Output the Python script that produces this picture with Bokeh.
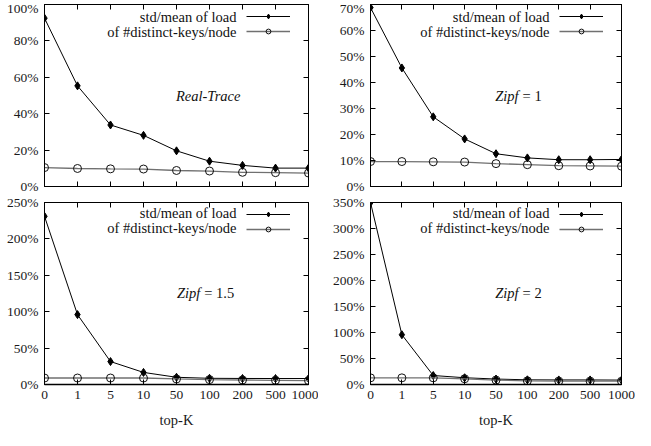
from bokeh.plotting import figure
from bokeh.layouts import gridplot
from bokeh.models import FixedTicker, LinearAxis, Range1d, Legend, LegendItem, Label
from bokeh.embed import file_html
from bokeh.resources import INLINE

x_labels = ["0", "1", "5", "10", "50", "100", "200", "500", "1000"]

real_load = [92.5, 55.3, 33.8, 28.1, 19.6, 13.9, 11.6, 10.1, 10.1]
real_keys = [10.4, 9.9, 9.7, 9.6, 8.8, 8.5, 7.8, 7.6, 7.4]
zipf1_load = [68.8, 45.6, 26.8, 18.3, 12.6, 11.0, 10.3, 10.3, 10.4]
zipf1_keys = [9.6, 9.6, 9.5, 9.4, 8.8, 8.4, 8.0, 7.9, 7.8]
zipf15_load = [231.0, 96.0, 31.5, 16.6, 9.9, 8.5, 8.3, 8.2, 8.2]
zipf15_keys = [8.9, 8.9, 8.9, 8.9, 7.6, 6.7, 6.2, 5.8, 5.4]
zipf2_load = [350.0, 95.7, 17.3, 13.0, 10.5, 9.0, 8.8, 8.8, 8.5]
zipf2_keys = [12.8, 12.8, 12.8, 11.0, 8.5, 7.0, 6.5, 6.4, 6.3]

y_max = [100, 70, 250, 350]
y_step = [20, 10, 50, 50]
panel_italic = ["Real-Trace", "Zipf", "Zipf", "Zipf"]
panel_upright = ["", "= 1", "= 1.5", "= 2"]

legend_labels = ["std/mean of load", "of #distinct-keys/node"]

FONT = "Liberation Serif"
xs = list(range(len(x_labels)))


def style_axis(ax, show_labels, labels):
    ax.major_tick_in = 5
    ax.major_tick_out = 0
    ax.minor_tick_line_color = None
    ax.axis_line_color = "black"
    ax.major_tick_line_color = "black"
    ax.major_label_text_font = FONT
    ax.major_label_text_font_style = "normal"
    ax.major_label_text_font_size = "13.5px"
    ax.major_label_text_color = "#1a1a1a"
    ax.axis_label_text_font = FONT
    ax.axis_label_text_font_size = "14.5px"
    ax.axis_label_text_font_style = "normal"
    ax.axis_label_text_color = "#1a1a1a"
    ax.axis_label_standoff = 10
    if show_labels:
        ax.major_label_overrides = labels
        ax.major_label_standoff = 6
    else:
        ax.major_label_overrides = {k: "" for k in labels}
        ax.major_label_standoff = 0


def make_panel(i, load, keys, left_col, bottom_row):
    w = 318 if left_col else 317
    h = 236 if bottom_row else 194
    mbl = 44 if left_col else 52
    mbr = 10 if left_col else 14
    mbt = 8 if bottom_row else 4
    mbb = 44 if bottom_row else 8
    fw = w - mbl - mbr
    fh = h - mbt - mbb
    p = figure(width=w, height=h, output_backend="svg", toolbar_location=None,
               x_range=Range1d(0, len(x_labels) - 1), y_range=Range1d(0, y_max[i]),
               min_border_left=mbl, min_border_right=mbr,
               min_border_top=mbt, min_border_bottom=mbb,
               x_axis_location=None, y_axis_location=None)
    p.grid.visible = False
    p.outline_line_color = "black"
    p.outline_line_width = 1
    p.background_fill_color = "white"
    p.border_fill_color = "white"

    yticks = list(range(0, y_max[i] + 1, y_step[i]))
    xlab = {k: v for k, v in zip(xs, x_labels)}
    ylab = {v: f"{v}%" for v in yticks}

    ax_left = LinearAxis(ticker=FixedTicker(ticks=yticks))
    ax_right = LinearAxis(ticker=FixedTicker(ticks=yticks))
    ax_below = LinearAxis(ticker=FixedTicker(ticks=xs),
                          axis_label=("top-K" if bottom_row else None))
    ax_above = LinearAxis(ticker=FixedTicker(ticks=xs))
    style_axis(ax_left, True, ylab)
    style_axis(ax_right, False, ylab)
    style_axis(ax_below, bottom_row, xlab)
    style_axis(ax_above, False, xlab)
    if bottom_row:
        ax_below.axis_line_width = 1.6
    p.add_layout(ax_left, "left")
    p.add_layout(ax_right, "right")
    p.add_layout(ax_below, "below")
    p.add_layout(ax_above, "above")

    l1 = p.line(xs, load, line_color="black", line_width=1)
    m1 = p.scatter(xs, load, marker="diamond", size=8, fill_color="black", line_color="black")
    l2 = p.line(xs, keys, line_color="#707070", line_width=1.3)
    m2 = p.scatter(xs, keys, marker="circle", size=8, fill_color=None, line_color="#111111", line_width=1)

    leg = Legend(items=[LegendItem(label=" ", renderers=[l1, m1]),
                        LegendItem(label=" ", renderers=[l2, m2])],
                 location="top_right", margin=0, padding=6, spacing=3,
                 glyph_width=44, glyph_height=12, label_height=12, label_width=0,
                 label_standoff=12, label_text_font_size="1px",
                 background_fill_alpha=0, border_line_alpha=0)
    p.add_layout(leg)
    for k, txt in enumerate(legend_labels):
        p.add_layout(Label(x=fw - 72, y=fh - 12 - 15 * k, x_units="screen", y_units="screen",
                           text=txt, text_align="right", text_baseline="middle",
                           text_font=FONT, text_font_style="normal",
                           text_font_size="14.5px", text_color="#111111"))

    if panel_upright[i]:
        cx = 0.59 * fw
        p.add_layout(Label(x=cx, y=0.5 * fh, x_units="screen", y_units="screen",
                           text=panel_italic[i], text_align="right", text_baseline="middle",
                           text_font=FONT, text_font_size="14.5px", text_font_style="italic",
                           text_color="#111111"))
        p.add_layout(Label(x=cx + 4, y=0.5 * fh, x_units="screen", y_units="screen",
                           text=panel_upright[i], text_align="left", text_baseline="middle",
                           text_font=FONT, text_font_style="normal",
                           text_font_size="14.5px", text_color="#111111"))
    else:
        p.add_layout(Label(x=0.62 * fw, y=0.5 * fh, x_units="screen", y_units="screen",
                           text=panel_italic[i], text_align="center", text_baseline="middle",
                           text_font=FONT, text_font_size="14.5px", text_font_style="italic",
                           text_color="#111111"))
    return p


p1 = make_panel(0, real_load, real_keys, True, False)
p2 = make_panel(1, zipf1_load, zipf1_keys, False, False)
p3 = make_panel(2, zipf15_load, zipf15_keys, True, True)
p4 = make_panel(3, zipf2_load, zipf2_keys, False, True)

grid = gridplot([[p1, p2], [p3, p4]], toolbar_location=None)

with open("out.html", "w") as f:
    f.write(file_html(grid, INLINE))
